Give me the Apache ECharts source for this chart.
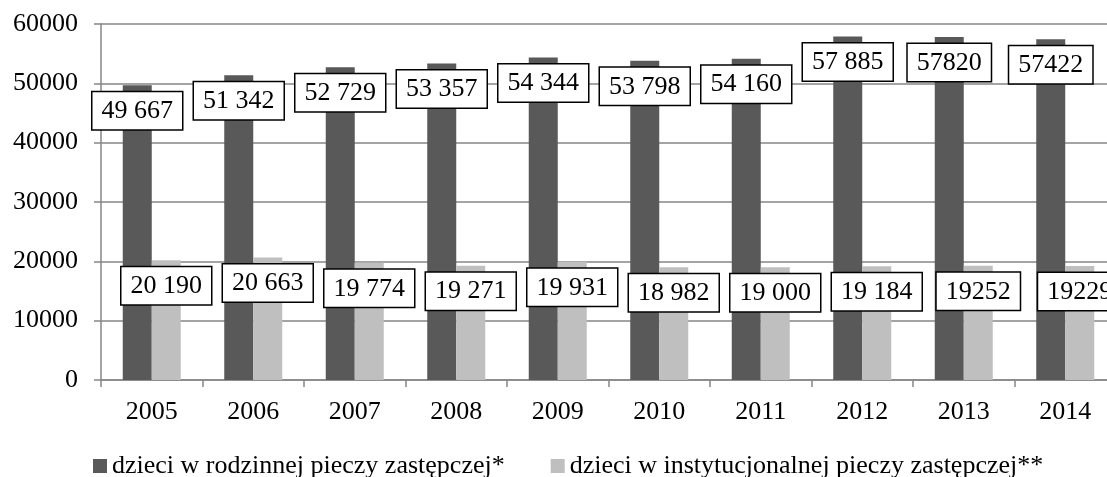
<!DOCTYPE html>
<html>
<head>
<meta charset="utf-8">
<script src="https://cdn.jsdelivr.net/npm/echarts@6/dist/echarts.min.js"></script>
<style>
  html, body { margin: 0; padding: 0; background: #fff; }
  #chart { width: 1107px; height: 477px; }
</style>
</head>
<body>
<div id="chart"></div>
<script>
// data
var years = ['2005', '2006', '2007', '2008', '2009', '2010', '2011', '2012', '2013', '2014'];
var rodzinna = [49667, 51342, 52729, 53357, 54344, 53798, 54160, 57885, 57820, 57422];
var instytucjonalna = [20190, 20663, 19774, 19271, 19931, 18982, 19000, 19184, 19252, 19229];
var rodzinnaLabels = ['49 667', '51 342', '52 729', '53 357', '54 344', '53 798', '54 160', '57 885', '57820', '57422'];
var instytucjonalnaLabels = ['20 190', '20 663', '19 774', '19 271', '19 931', '18 982', '19 000', '19 184', '19252', '19229'];
var yTicks = [0, 10000, 20000, 30000, 40000, 50000, 60000];

var font = "'Liberation Serif', 'Times New Roman', serif";

var myChart = echarts.init(document.getElementById('chart'));

// boxed value label, placed just under the bar top
function boxLabel(texts) {
    return {
        show: true,
        position: 'insideTop',
        distance: 7,
        formatter: function (p) { return texts[p.dataIndex]; },
        fontFamily: font,
        fontSize: 26,
        lineHeight: 26,
        color: '#000',
        backgroundColor: '#fff',
        borderColor: '#000',
        borderWidth: 1.5,
        padding: [6, 9, 5, 9]
    };
}

var option = {
    animation: false,
    textStyle: { fontFamily: font },
    color: ['#595959', '#bfbfbf'],
    grid: {
        left: 101,
        width: 1015,
        top: 24,
        bottom: 97,
        outerBoundsMode: 'none'
    },
    legend: {
        top: 453,
        left: 93,
        padding: 0,
        icon: 'rect',
        itemWidth: 14,
        itemHeight: 14,
        itemGap: 46,
        textStyle: { fontFamily: font, fontSize: 26, color: '#000' },
        data: ['dzieci w rodzinnej pieczy zastępczej*', 'dzieci w instytucjonalnej pieczy zastępczej**']
    },
    xAxis: {
        type: 'category',
        data: years,
        axisLine: { lineStyle: { color: '#868686', width: 1.5 } },
        axisTick: { show: true, length: 7, lineStyle: { color: '#868686', width: 1.5 } },
        axisLabel: { fontFamily: font, fontSize: 26, color: '#000', margin: 19 }
    },
    yAxis: {
        type: 'value',
        min: yTicks[0],
        max: yTicks[yTicks.length - 1],
        interval: 10000,
        axisLine: { show: true, lineStyle: { color: '#868686', width: 1.5 } },
        axisTick: { show: true, length: 7, lineStyle: { color: '#868686', width: 1.5 } },
        splitLine: { lineStyle: { color: '#868686', width: 1.5 } },
        axisLabel: {
            fontFamily: font, fontSize: 26, color: '#000', margin: 23,
            formatter: function (v) { return String(v); }
        }
    },
    series: [
        {
            name: 'dzieci w rodzinnej pieczy zastępczej*',
            type: 'bar',
            barWidth: 29,
            barGap: '0%',
            data: rodzinna,
            label: boxLabel(rodzinnaLabels)
        },
        {
            name: 'dzieci w instytucjonalnej pieczy zastępczej**',
            type: 'bar',
            barWidth: 29,
            barGap: '0%',
            data: instytucjonalna,
            label: boxLabel(instytucjonalnaLabels)
        }
    ]
};

myChart.setOption(option);
</script>
</body>
</html>
